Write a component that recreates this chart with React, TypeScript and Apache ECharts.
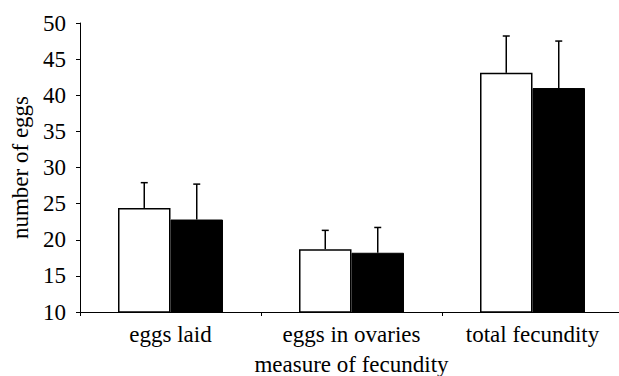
import React, { useEffect, useRef } from "react";
import * as echarts from "echarts";

const categories = ["eggs laid", "eggs in ovaries", "total fecundity"];
const whiteMeans = [24.4, 18.7, 43.1];
const whiteUpper = [27.9, 21.3, 48.2];
const blackMeans = [22.8, 18.2, 41.0];
const blackUpper = [27.7, 21.7, 47.5];

const FONT = "Liberation Serif";
const CAT_GAP = 0.42;

function errorSeries(upper: number[], means: number[], side: number) {
  return {
    type: "custom",
    z: 5,
    data: means.map((m, i) => [i, m, upper[i]]),
    renderItem: (params: any, api: any) => {
      const idx = api.value(0);
      const base = api.coord([idx, api.value(1)]);
      const top = api.coord([idx, api.value(2)]);
      const catW = api.size([1, 0])[0];
      const barW = (catW * (1 - CAT_GAP)) / 2;
      const x = base[0] + (side * barW) / 2;
      const cap = 3.5;
      const style = { stroke: "#000", lineWidth: 1.5 };
      return {
        type: "group",
        children: [
          { type: "line", shape: { x1: x, y1: base[1], x2: x, y2: top[1] }, style },
          { type: "line", shape: { x1: x - cap, y1: top[1], x2: x + cap, y2: top[1] }, style },
        ],
      };
    },
  };
}

export default function App() {
  const ref = useRef<HTMLDivElement>(null);
  useEffect(() => {
    if (!ref.current) return;
    document.body.style.margin = "0";
    document.body.style.overflow = "hidden";
    const chart = echarts.init(ref.current, undefined, { renderer: "svg" });
    chart.setOption({
      animation: false,
      textStyle: { fontFamily: FONT },
      grid: { left: 80, top: 23, width: 543, height: 289, containLabel: false, outerBoundsMode: "none" },
      xAxis: {
        type: "category",
        data: categories,
        name: "measure of fecundity",
        nameLocation: "middle",
        nameGap: 41,
        nameTextStyle: { fontFamily: FONT, fontSize: 23, color: "#000" },
        axisLine: { lineStyle: { color: "#000", width: 1 } },
        axisTick: { show: true, length: 4, lineStyle: { color: "#000" } },
        axisLabel: { fontFamily: FONT, fontSize: 23, color: "#000", margin: 11 },
      },
      yAxis: {
        type: "value",
        min: 10,
        max: 50,
        interval: 5,
        name: "number of eggs",
        nameLocation: "middle",
        nameGap: 47,
        nameTextStyle: { fontFamily: FONT, fontSize: 23, color: "#000" },
        axisLine: { show: true, lineStyle: { color: "#000", width: 1 } },
        axisTick: { show: true, length: 4, lineStyle: { color: "#000" } },
        axisLabel: { fontFamily: FONT, fontSize: 23, color: "#000", margin: 14 },
        splitLine: { show: false },
      },
      series: [
        {
          type: "bar",
          data: whiteMeans,
          barGap: "0%",
          barCategoryGap: `${CAT_GAP * 100}%`,
          itemStyle: { color: "#fff", borderColor: "#000", borderWidth: 1.5 },
        },
        {
          type: "bar",
          data: blackMeans,
          barGap: "0%",
          barCategoryGap: `${CAT_GAP * 100}%`,
          itemStyle: { color: "#000", borderColor: "#000", borderWidth: 1 },
        },
        errorSeries(whiteUpper, whiteMeans, -1),
        errorSeries(blackUpper, blackMeans, 1),
      ],
    });
    return () => chart.dispose();
  }, []);
  return <div ref={ref} style={{ width: 619, height: 376, position: "absolute", left: 0, top: 0, overflow: "hidden" }} />;
}
